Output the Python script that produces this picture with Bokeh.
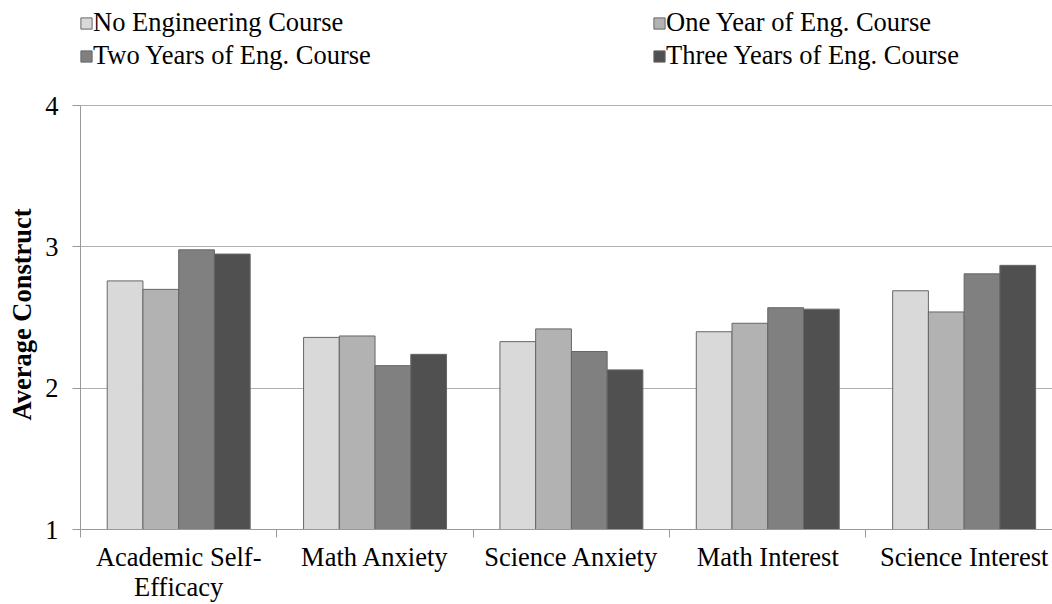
from bokeh.plotting import figure
from bokeh.models import Range1d, FixedTicker, Legend, LegendItem, ColumnDataSource, Title
from bokeh.transform import dodge
from bokeh.embed import file_html
from bokeh.resources import INLINE

categories = ["Academic Self-Efficacy", "Math Anxiety", "Science Anxiety", "Math Interest", "Science Interest"]
tick_labels = ["Academic Self-\nEfficacy", "Math Anxiety", "Science Anxiety", "Math Interest", "Science Interest"]
series_names = ["No Engineering Course", "One Year of Eng. Course",
                "Two Years of Eng. Course", "Three Years of Eng. Course"]
no_eng = [2.76, 2.36, 2.33, 2.40, 2.69]
one_year = [2.70, 2.37, 2.42, 2.46, 2.54]
two_years = [2.98, 2.16, 2.26, 2.57, 2.81]
three_years = [2.95, 2.24, 2.13, 2.56, 2.87]
y_ticks = [1, 2, 3, 4]
colors = ["#D9D9D9", "#B2B2B2", "#808080", "#505050"]
y_title = "Average Construct"

FONT = "Liberation Serif"
FS = "26.5px"

centers = [i + 0.5 for i in range(len(categories))]
src = ColumnDataSource(dict(x=centers, s0=no_eng, s1=one_year, s2=two_years, s3=three_years))

# the frame covers the whole height; the value axis is bounded to 1..4,
# leaving the space above 4 for the legend
p = figure(width=1052, height=604, output_backend="svg", toolbar_location=None,
           x_range=Range1d(0, 4.95), y_range=Range1d(1, 4.745),
           min_border_left=80, min_border_right=0, min_border_top=0, min_border_bottom=70)
p.outline_line_color = None
p.background_fill_color = "white"
p.border_fill_color = "white"

w = 0.182
offsets = [-1.5 * w, -0.5 * w, 0.5 * w, 1.5 * w]
renderers = []
for k, (col, c) in enumerate(zip(["s0", "s1", "s2", "s3"], colors)):
    r = p.vbar(x=dodge("x", offsets[k]), top=col, bottom=1, width=w, source=src,
               fill_color=c, line_color="#666666", line_width=1)
    renderers.append(r)

# grid
p.xgrid.grid_line_color = None
p.ygrid.grid_line_color = "#B0B0B0"
p.ygrid.grid_line_width = 1
p.ygrid.ticker = FixedTicker(ticks=y_ticks)

# y axis
p.yaxis.ticker = FixedTicker(ticks=y_ticks, minor_ticks=[])
p.yaxis.bounds = (y_ticks[0], y_ticks[-1])
p.yaxis.major_label_text_font = FONT
p.yaxis.major_label_text_font_size = FS
p.yaxis.major_label_text_color = "black"
p.yaxis.major_label_standoff = 14
p.yaxis.major_tick_out = 8
p.yaxis.major_tick_in = 0
p.yaxis.major_tick_line_color = "#999999"
p.yaxis.axis_line_color = "#999999"

# y axis title (placed beside the bounded axis)
p.add_layout(Title(text=y_title, align="left", vertical_align="middle", offset=109, standoff=10,
                   text_font=FONT, text_font_size=FS, text_font_style="bold", text_color="black"),
             "left")

# x axis
p.xaxis.ticker = FixedTicker(ticks=centers, minor_ticks=[0, 1, 2, 3, 4, 5])
p.xaxis.major_label_overrides = {c: t for c, t in zip(centers, tick_labels)}
p.xaxis.major_label_text_font = FONT
p.xaxis.major_label_text_font_size = FS
p.xaxis.major_label_text_color = "black"
p.xaxis.major_label_text_line_height = 1.0
p.xaxis.major_label_standoff = 4
p.xaxis.major_tick_out = 0
p.xaxis.major_tick_in = 0
p.xaxis.minor_tick_out = 8
p.xaxis.minor_tick_in = 0
p.xaxis.minor_tick_line_color = "#999999"
p.xaxis.axis_line_color = "#999999"

def make_legend(idx, loc):
    return Legend(items=[LegendItem(label=series_names[i], renderers=[renderers[i]]) for i in idx],
                  orientation="horizontal", location=loc,
                  glyph_width=14, glyph_height=14, label_standoff=0, label_width=300,
                  label_height=33, spacing=259, padding=0, margin=0,
                  label_text_font=FONT, label_text_font_size=FS, label_text_color="black",
                  border_line_color=None, background_fill_alpha=0)

p.add_layout(make_legend([0, 1], (-1, 490)))
p.add_layout(make_legend([2, 3], (-1, 457)))

open("out.html", "w").write(file_html(p, INLINE))
